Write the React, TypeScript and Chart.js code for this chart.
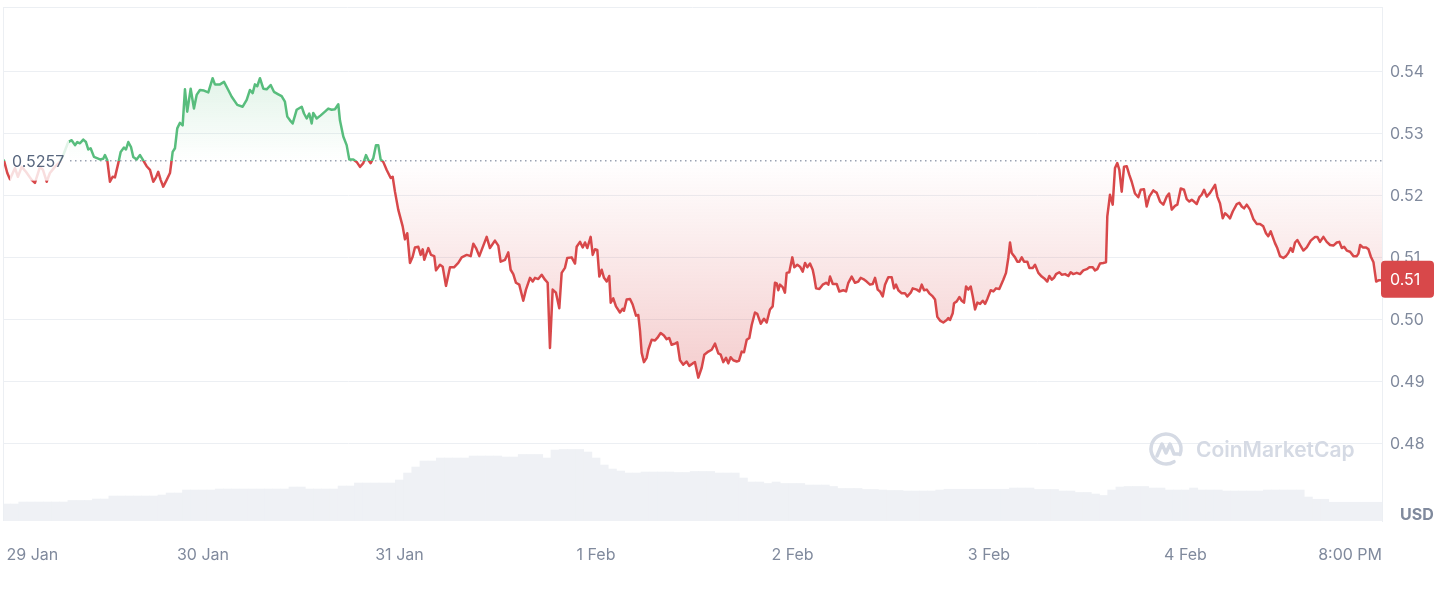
import React, { useEffect, useRef } from "react";
import { Chart, registerables } from "chart.js";

Chart.register(...registerables);

// ---- data ----
const BASE_PRICE = 0.5257;

// time in hours since the 29 Jan 8:00 PM tick
const HOURS = [
  -0.3, 0.1, 0.43, 1.04, 1.4, 1.86, 2.38, 3.08, 3.48, 3.79,
  4.09, 4.46, 4.91, 5.31, 5.92, 6.53, 6.94, 7.55, 7.96, 8.37,
  8.65, 8.98, 9.38, 9.71, 9.99, 10.28, 10.69, 11.42, 11.82, 12.03,
  12.31, 12.64, 12.97, 13.25, 13.66, 13.95, 14.35, 14.6, 14.88, 15.21,
  15.49, 15.9, 16.31, 16.63, 17.12, 17.53, 17.93, 18.26, 18.54, 18.83,
  19.15, 19.57, 19.97, 20.18, 20.3, 20.58, 20.86, 21.19, 21.52, 21.8,
  22.08, 22.5, 22.9, 23.23, 23.63, 24.12, 24.65, 25.18, 25.46, 26.08,
  26.57, 27.09, 27.51, 28.19, 28.85, 29.34, 29.74, 30.07, 30.35, 30.63,
  30.96, 31.37, 31.78, 32.27, 32.67, 33.2, 33.61, 34.01, 34.3, 34.63,
  34.96, 35.44, 36.06, 36.34, 36.67, 36.98, 37.28, 37.47, 37.89, 38.38,
  38.9, 39.3, 39.72, 40.12, 40.53, 40.73, 41.14, 41.55, 41.87, 42.36,
  42.77, 43.18, 43.58, 43.91, 44.19, 44.48, 44.8, 45.13, 45.41, 45.7,
  46.02, 46.44, 46.93, 47.17, 47.45, 47.85, 48.39, 48.67, 48.95, 49.28,
  49.61, 49.89, 50.3, 50.59, 50.84, 51.03, 51.52, 51.85, 52.25, 52.46,
  52.95, 53.28, 53.68, 54.17, 54.66, 55.18, 55.6, 56.21, 56.7, 57.02,
  57.35, 57.75, 58.24, 58.65, 59.05, 59.66, 60.07, 60.36, 60.89, 61.29,
  61.58, 61.9, 62.23, 62.63, 63.12, 63.45, 63.94, 64.27, 64.55, 64.95,
  65.37, 65.77, 66.1, 66.38, 66.71, 67.11, 67.52, 67.81, 68.21, 68.49,
  69.03, 69.44, 69.64, 70.05, 70.38, 70.66, 70.94, 71.35, 71.6, 71.88,
  72.16, 72.41, 72.7, 72.98, 73.31, 73.62, 73.8, 74.11, 74.44, 74.93,
  75.26, 75.42, 75.75, 76.16, 76.48, 76.89, 77.17, 77.38, 77.58, 77.86,
  78.19, 78.39, 78.8, 79.21, 79.49, 79.9, 80.3, 80.63, 80.95, 81.24,
  81.65, 81.93, 82.26, 82.66, 83.08, 83.39, 83.81, 84.09, 84.5, 84.91,
  85.23, 85.72, 86.13, 86.54, 86.94, 87.23, 87.55, 87.88, 88.16, 88.45,
  88.77, 89.19, 89.46, 89.8, 90.08, 90.41, 90.73, 91.02, 91.42, 91.7,
  92.12, 92.52, 92.85, 93.25, 93.58, 93.86, 94.07, 94.27, 94.47, 94.8,
  95.08, 95.29, 95.61, 95.98, 96.22, 96.59, 96.92, 97.25, 97.53, 97.81,
  98.14, 98.47, 98.63, 98.88, 99.28, 99.69, 100.1, 100.38, 100.59, 100.92,
  101.4, 101.72, 102.21, 102.54, 102.82, 103.23, 103.64, 104.04, 104.33, 104.65,
  105.06, 105.47, 105.8, 106.08, 106.41, 106.69, 107.02, 107.3, 107.7, 108.12,
  108.4, 108.65, 108.93, 109.34, 109.74, 110.03, 110.44, 110.69, 111.18, 111.5,
  111.79, 112.07, 112.4, 112.71, 113.13, 113.41, 113.69, 114.02, 114.42, 114.84,
  115.03, 115.24, 115.57, 115.73, 116.06, 116.38, 116.67, 116.95, 117.2, 117.48,
  117.77, 118.02, 118.3, 118.58, 118.91, 119.24, 119.52, 119.8, 120.21, 120.53,
  120.86, 121.26, 121.75, 122.08, 122.36, 122.57, 122.77, 123.18, 123.46, 123.71,
  124.0, 124.28, 124.68, 124.93, 125.34, 125.62, 126.03, 126.44, 126.84, 127.12,
  127.37, 127.66, 127.94, 128.19, 128.59, 128.88, 129.29, 129.69, 129.98, 130.3,
  130.72, 131.12, 131.52, 131.94, 132.26, 132.67, 132.95, 133.23, 133.56, 133.96,
  134.29, 134.45, 134.78, 135.11, 135.39, 135.67, 135.92, 136.21, 136.49, 136.82,
  137.14, 137.43, 137.83, 138.24, 138.53, 138.93, 139.26, 139.58, 140.07, 140.49,
  140.89, 141.29, 141.71, 141.99, 142.32, 142.72, 143.0, 143.42, 143.82, 144.15,
  144.47, 144.76, 145.04, 145.37, 145.69, 145.98, 146.27, 146.6, 147.0, 147.61,
  147.89, 148.22, 148.55, 148.83, 149.11, 149.44, 149.77, 150.26, 150.57, 150.87,
  151.15, 151.48, 151.88, 152.28, 152.7, 153.1, 153.5, 153.83, 154.11, 154.41,
  154.65, 154.93, 155.21, 155.54, 155.95, 156.28, 156.56, 156.85, 157.1, 157.38,
  157.66, 157.99, 158.4, 158.81, 159.3, 159.83, 160.1, 160.43, 160.84, 161.25,
  161.66, 162.06, 162.48, 162.79, 163.09, 163.37, 163.7, 164.1, 164.51, 164.92,
  165.12, 165.33, 165.66, 166.06, 166.35, 166.64, 166.96, 167.29, 167.57, 168.0,
];

// price in USD
const PRICES = [
  0.5257, 0.5237, 0.5227, 0.5245, 0.5231, 0.5247, 0.5239, 0.5226, 0.5221, 0.5234,
  0.5247, 0.5242, 0.5223, 0.5237, 0.5247, 0.5255, 0.5266, 0.5287, 0.529, 0.5282,
  0.5287, 0.5285, 0.5291, 0.5287, 0.5275, 0.5277, 0.5263, 0.5259, 0.526, 0.5266,
  0.5258, 0.5223, 0.5231, 0.523, 0.5253, 0.5271, 0.5278, 0.5275, 0.5287, 0.5279,
  0.5263, 0.5259, 0.5266, 0.5259, 0.5248, 0.5242, 0.5223, 0.523, 0.5239, 0.5226,
  0.5215, 0.5226, 0.5237, 0.5258, 0.5271, 0.5277, 0.5309, 0.5318, 0.5314, 0.5372,
  0.5336, 0.5373, 0.5341, 0.5363, 0.5371, 0.537, 0.5367, 0.539, 0.538, 0.538,
  0.5384, 0.5371, 0.536, 0.5347, 0.5344, 0.5355, 0.5371, 0.5366, 0.538, 0.5377,
  0.539, 0.5373, 0.5372, 0.5379, 0.5368, 0.5364, 0.5361, 0.5352, 0.5328, 0.5322,
  0.5317, 0.5339, 0.5344, 0.5333, 0.5325, 0.5333, 0.5317, 0.5334, 0.5325, 0.533,
  0.5336, 0.5341, 0.5339, 0.534, 0.5348, 0.5322, 0.5296, 0.5282, 0.5259, 0.5259,
  0.5255, 0.5247, 0.5253, 0.5266, 0.5258, 0.5253, 0.5261, 0.5282, 0.5282, 0.5259,
  0.5255, 0.5242, 0.5229, 0.5231, 0.5207, 0.5178, 0.5151, 0.513, 0.514, 0.5092,
  0.5102, 0.5117, 0.5118, 0.5105, 0.5114, 0.5097, 0.5116, 0.5105, 0.5103, 0.508,
  0.5089, 0.5086, 0.5055, 0.5085, 0.5085, 0.5092, 0.5101, 0.5105, 0.5103, 0.5123,
  0.5116, 0.5103, 0.512, 0.5134, 0.5116, 0.5128, 0.512, 0.5094, 0.5097, 0.5109,
  0.5081, 0.5074, 0.506, 0.5057, 0.5031, 0.5049, 0.5068, 0.5062, 0.5068, 0.5066,
  0.5073, 0.5065, 0.506, 0.4955, 0.5049, 0.5044, 0.5019, 0.5076, 0.5084, 0.51,
  0.5101, 0.5091, 0.5118, 0.5126, 0.5117, 0.5125, 0.5116, 0.5134, 0.5105, 0.5114,
  0.5113, 0.507, 0.5081, 0.5068, 0.5062, 0.5071, 0.5028, 0.5035, 0.5022, 0.5012,
  0.5018, 0.5015, 0.5033, 0.5034, 0.5025, 0.5007, 0.5008, 0.4982, 0.4947, 0.4932,
  0.4939, 0.4952, 0.4968, 0.4967, 0.4971, 0.4979, 0.4975, 0.4969, 0.4971, 0.496,
  0.4962, 0.4964, 0.4935, 0.4928, 0.4933, 0.4926, 0.493, 0.4932, 0.4907, 0.4923,
  0.4944, 0.4949, 0.4952, 0.4962, 0.4946, 0.4944, 0.4932, 0.4939, 0.493, 0.494,
  0.4935, 0.4933, 0.4934, 0.4949, 0.4948, 0.4968, 0.4971, 0.4992, 0.5012, 0.501,
  0.4994, 0.5002, 0.4996, 0.5017, 0.5022, 0.506, 0.5059, 0.5048, 0.5057, 0.5053,
  0.5044, 0.5076, 0.5077, 0.5101, 0.5085, 0.5089, 0.5086, 0.5078, 0.5092, 0.5085,
  0.5091, 0.5081, 0.5071, 0.5051, 0.505, 0.5057, 0.506, 0.5057, 0.507, 0.5058,
  0.5058, 0.5046, 0.5048, 0.5046, 0.506, 0.507, 0.506, 0.5062, 0.5068, 0.5066,
  0.5062, 0.5057, 0.5058, 0.5068, 0.5049, 0.5046, 0.5038, 0.5057, 0.5069, 0.5069,
  0.5051, 0.5057, 0.5048, 0.5043, 0.5043, 0.5038, 0.5044, 0.5051, 0.5049, 0.5046,
  0.5057, 0.5048, 0.5049, 0.5043, 0.5038, 0.5033, 0.5005, 0.4999, 0.4996, 0.5,
  0.5003, 0.5, 0.5011, 0.5027, 0.503, 0.5037, 0.5031, 0.5028, 0.5054, 0.5049,
  0.5054, 0.5038, 0.5017, 0.5028, 0.5026, 0.5031, 0.5026, 0.5034, 0.5048, 0.5046,
  0.5051, 0.505, 0.5065, 0.5076, 0.51, 0.5125, 0.5108, 0.5101, 0.5094, 0.5094,
  0.5101, 0.5094, 0.5094, 0.5084, 0.5084, 0.5089, 0.5076, 0.507, 0.5066, 0.5062,
  0.5071, 0.5065, 0.5068, 0.5074, 0.5077, 0.5073, 0.5074, 0.5071, 0.5077, 0.5074,
  0.5076, 0.5074, 0.508, 0.5082, 0.5085, 0.5085, 0.508, 0.5082, 0.5091, 0.5092,
  0.5093, 0.5167, 0.5202, 0.5186, 0.5245, 0.5253, 0.5242, 0.5207, 0.5247, 0.5248,
  0.5234, 0.5223, 0.5204, 0.5198, 0.521, 0.5211, 0.5183, 0.5199, 0.5209, 0.5205,
  0.5191, 0.5186, 0.5199, 0.5204, 0.5178, 0.5184, 0.5186, 0.5212, 0.521, 0.5195,
  0.5191, 0.5194, 0.5191, 0.5187, 0.5198, 0.5202, 0.521, 0.5199, 0.5205, 0.5218,
  0.5199, 0.5188, 0.5164, 0.5172, 0.5169, 0.5164, 0.5175, 0.5187, 0.5189, 0.5183,
  0.518, 0.5186, 0.5178, 0.5163, 0.5155, 0.5155, 0.5151, 0.514, 0.5135, 0.5143,
  0.5134, 0.5124, 0.5116, 0.5103, 0.51, 0.5103, 0.5108, 0.5116, 0.511, 0.5125,
  0.5129, 0.5121, 0.5112, 0.5117, 0.5128, 0.5134, 0.5134, 0.5126, 0.5134, 0.5126,
  0.5121, 0.512, 0.5125, 0.5126, 0.5116, 0.5118, 0.5112, 0.511, 0.5103, 0.5103,
  0.5107, 0.5121, 0.5117, 0.5117, 0.5114, 0.5102, 0.5093, 0.5062, 0.5064, 0.5064,
];

// rolling 24h volume, one value per hour (millions USD)
const VOLUME = [
  340, 340, 380, 380, 380, 380, 380, 380, 410, 410, 410, 440,
  440, 500, 500, 500, 500, 500, 500, 520, 560, 560, 620, 620,
  620, 620, 640, 640, 640, 640, 640, 640, 640, 640, 640, 680,
  680, 640, 640, 640, 640, 700, 700, 760, 760, 760, 760, 760,
  820, 960, 1080, 1200, 1200, 1260, 1260, 1260, 1260, 1300, 1300, 1300,
  1300, 1280, 1280, 1330, 1330, 1330, 1260, 1420, 1430, 1430, 1430, 1380,
  1260, 1120, 1040, 1000, 960, 960, 980, 980, 980, 980, 970, 970,
  990, 990, 990, 960, 960, 960, 860, 780, 780, 750, 780, 750,
  750, 750, 720, 720, 720, 690, 650, 650, 650, 630, 630, 620,
  610, 610, 600, 600, 600, 600, 620, 635, 635, 635, 635, 635,
  635, 635, 635, 660, 660, 660, 630, 630, 630, 600, 600, 570,
  570, 540, 510, 620, 680, 690, 690, 690, 660, 660, 620, 620,
  620, 660, 620, 620, 620, 600, 600, 600, 600, 600, 620, 620,
  620, 620, 620, 480, 435, 435, 375, 375, 375, 375, 375, 375,
  375,
];

const X_TICK_HOURS = [0, 24, 48, 72, 96, 120, 144, 168];
const X_TICK_LABELS = ["29 Jan", "30 Jan", "31 Jan", "1 Feb", "2 Feb", "3 Feb", "4 Feb", "8:00 PM"];
const Y_TICKS = [0.48, 0.49, 0.5, 0.51, 0.52, 0.53, 0.54];

const X_MIN = -0.3;
const X_MAX = 168;
const Y_MIN = 0.46758;
const Y_MAX = 0.55048;
const VOL_MAX = 10280;

const GREEN = "rgb(88,189,125)";
const RED = "rgb(216,72,74)";
const GRID = "#eceff3";
const AXIS_TEXT = "#808a9d";
const FONT = "Inter, 'Noto Sans', sans-serif";

const decorPlugin = {
  id: "cmcDecor",
  beforeDatasetsDraw(chart: any) {
    const { ctx, chartArea: ca, scales } = chart;
    const yb = scales.y.getPixelForValue(BASE_PRICE);
    ctx.save();
    // frame top + left
    ctx.strokeStyle = GRID;
    ctx.lineWidth = 1;
    ctx.beginPath();
    ctx.moveTo(ca.left - 1, Math.round(ca.top) + 0.5);
    ctx.lineTo(ca.right, Math.round(ca.top) + 0.5);
    ctx.moveTo(ca.left - 0.5, ca.top);
    ctx.lineTo(ca.left - 0.5, ca.bottom);
    ctx.stroke();
    // watermark
    ctx.strokeStyle = "#d5dae4";
    ctx.fillStyle = "#d5dae4";
    ctx.lineWidth = 3.5;
    ctx.lineCap = "round";
    ctx.lineJoin = "round";
    const cx = 1166, cy = 449, r = 15;
    ctx.beginPath();
    ctx.arc(cx, cy, r, 0.32 * Math.PI, 2.12 * Math.PI);
    ctx.stroke();
    ctx.beginPath();
    ctx.moveTo(cx - 9, cy + 7);
    ctx.lineTo(cx - 4, cy - 5);
    ctx.lineTo(cx, cy + 4);
    ctx.lineTo(cx + 4, cy - 5);
    ctx.lineTo(cx + 8, cy + 5);
    ctx.lineTo(cx + 12, cy + 5);
    ctx.stroke();
    ctx.font = "600 21px " + FONT;
    ctx.textBaseline = "middle";
    ctx.textAlign = "left";
    ctx.fillText("CoinMarketCap", 1196, 451);
    // dotted baseline
    ctx.strokeStyle = "rgba(128,138,157,0.8)";
    ctx.lineWidth = 1.5;
    ctx.lineCap = "butt";
    ctx.setLineDash([1.5, 3.5]);
    ctx.beginPath();
    ctx.moveTo(70, yb);
    ctx.lineTo(ca.right, yb);
    ctx.stroke();
    ctx.restore();
  },
  afterDatasetsDraw(chart: any) {
    const { ctx, scales } = chart;
    const yb = scales.y.getPixelForValue(BASE_PRICE);
    ctx.save();
    ctx.fillStyle = "rgba(255,255,255,0.82)";
    ctx.fillRect(10, yb - 20, 59, 40);
    ctx.fillStyle = "#58667e";
    ctx.font = "16px " + FONT;
    ctx.textBaseline = "middle";
    ctx.textAlign = "left";
    ctx.fillText(BASE_PRICE.toFixed(4), 12, yb + 1.5);
    ctx.restore();
  },
  afterDraw(chart: any) {
    const { ctx, chartArea: ca, scales } = chart;
    const last = PRICES[PRICES.length - 1];
    const yl = scales.y.getPixelForValue(last);
    ctx.save();
    // current price tag
    const bx = ca.right - 1, bw = 53, bh = 37, by = yl - 1 - bh / 2;
    ctx.fillStyle = RED;
    ctx.beginPath();
    (ctx as any).roundRect(bx, by, bw, bh, 4);
    ctx.fill();
    ctx.fillStyle = "#ffffff";
    ctx.font = "16px " + FONT;
    ctx.textBaseline = "middle";
    ctx.textAlign = "left";
    ctx.fillText(last.toFixed(2), ca.right + 8, yl);
    // currency
    ctx.fillStyle = AXIS_TEXT;
    ctx.font = "bold 16px " + FONT;
    ctx.fillText("USD", 1400, 515);
    ctx.restore();
  },
};

export default function App() {
  const ref = useRef<HTMLCanvasElement | null>(null);

  useEffect(() => {
    document.body.style.margin = "0";
    const canvas = ref.current;
    if (!canvas) return;

    const priceData = HOURS.map((h, i) => ({ x: h, y: PRICES[i] }));
    const volData = VOLUME.map((v, i) => ({ x: i, y: v }));

    const chart = new Chart(canvas, {
      data: {
        datasets: [
          {
            type: "line",
            data: priceData,
            yAxisID: "y",
            borderColor: RED,
            borderWidth: 2.5,
            pointRadius: 0,
            tension: 0,
            borderJoinStyle: "round",
            borderCapStyle: "round",
            fill: { target: { value: BASE_PRICE }, above: "transparent", below: "transparent" },
            order: 1,
          } as any,
          {
            type: "bar",
            data: volData,
            yAxisID: "yv",
            backgroundColor: "#eff1f5",
            borderWidth: 0,
            barPercentage: 1,
            categoryPercentage: 1,
            order: 2,
          } as any,
        ],
      },
      options: {
        animation: false,
        responsive: false,
        devicePixelRatio: 1,
        events: [],
        layout: { padding: { left: 4, top: 7, right: 0, bottom: 0 } },
        plugins: { legend: { display: false }, tooltip: { enabled: false } },
        scales: {
          x: {
            type: "linear",
            min: X_MIN,
            max: X_MAX,
            offset: false,
            grid: { display: false, offset: false },
            border: { display: false },
            afterBuildTicks: (s: any) => {
              s.ticks = X_TICK_HOURS.map((v) => ({ value: v }));
            },
            afterFit: (s: any) => {
              s.height = 69;
              s.paddingLeft = 0;
              s.paddingRight = 0;
            },
            ticks: {
              autoSkip: false,
              maxRotation: 0,
              minRotation: 0,
              align: "inner",
              padding: 17,
              color: AXIS_TEXT,
              font: { family: FONT, size: 16 },
              callback: (_v: any, i: number) => X_TICK_LABELS[i],
            },
          },
          y: {
            type: "linear",
            position: "right",
            min: Y_MIN,
            max: Y_MAX,
            grid: { color: GRID, drawTicks: false },
            border: { display: true, color: GRID },
            afterBuildTicks: (s: any) => {
              s.ticks = Y_TICKS.map((v) => ({ value: v }));
            },
            afterFit: (s: any) => {
              s.width = 62;
              s.paddingTop = 0;
              s.paddingBottom = 0;
            },
            ticks: {
              padding: 8,
              color: AXIS_TEXT,
              font: { family: FONT, size: 16 },
              callback: (v: any) => Number(v).toFixed(2),
            },
          },
          yv: {
            type: "linear",
            display: false,
            min: 0,
            max: VOL_MAX,
          },
        },
      } as any,
      plugins: [decorPlugin],
    } as any);

    // second pass: gradients need the laid-out chart area
    const ca = chart.chartArea;
    const yb = chart.scales.y.getPixelForValue(BASE_PRICE);
    const c = chart.ctx;
    const up = c.createLinearGradient(0, ca.top, 0, yb);
    up.addColorStop(0, "rgba(88,189,125,0.32)");
    up.addColorStop(1, "rgba(88,189,125,0)");
    const dn = c.createLinearGradient(0, yb, 0, ca.bottom);
    dn.addColorStop(0, "rgba(216,72,74,0)");
    dn.addColorStop(1, "rgba(216,72,74,0.45)");
    const stroke = c.createLinearGradient(0, ca.top, 0, ca.bottom);
    const s = (yb - ca.top) / (ca.bottom - ca.top);
    stroke.addColorStop(0, GREEN);
    stroke.addColorStop(s, GREEN);
    stroke.addColorStop(s, RED);
    stroke.addColorStop(1, RED);
    const ds: any = chart.data.datasets[0];
    ds.borderColor = stroke;
    ds.fill = { target: { value: BASE_PRICE }, above: up, below: dn };
    chart.update("none");

    return () => {
      chart.destroy();
    };
  }, []);

  return (
    <div style={{ width: 1444, height: 590, background: "#ffffff" }}>
      <canvas ref={ref} width={1444} height={590} style={{ display: "block" }} />
    </div>
  );
}
